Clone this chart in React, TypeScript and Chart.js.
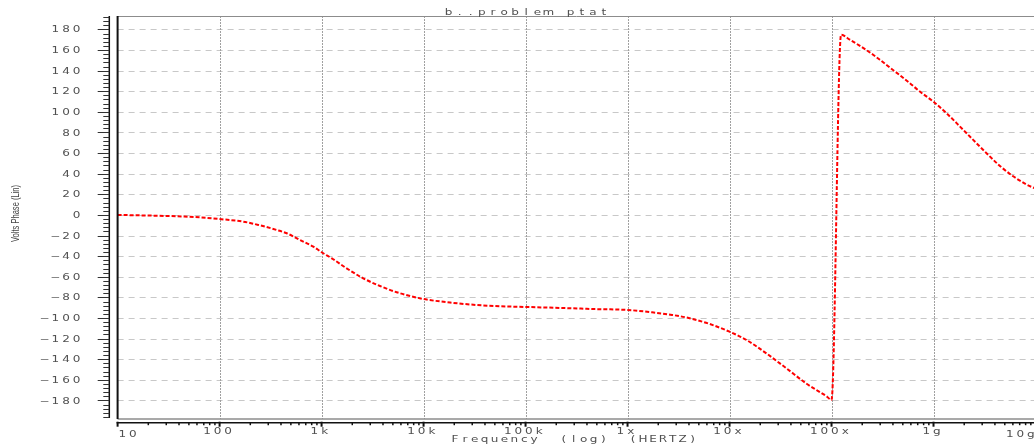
import { useEffect, useRef } from "react";
import { Chart, registerables } from "chart.js";

Chart.register(...registerables);

// ---- data ----
const freqHz = [
  10, 20, 30, 45, 64, 100, 170, 240, 363, 455, 614, 830, 1000, 1300, 1760, 2560, 3740, 5870,
  10000, 18200, 33000, 56000, 100000, 234000, 460000, 1e6, 1.74e6, 2.73e6, 3.98e6, 6.25e6,
  1e7, 1.47e7, 2.31e7, 3.63e7, 5.7e7, 8.95e7, 1e8, 1.24e8, 1.51e8, 1.9e8, 2.38e8, 2.98e8,
  3.73e8, 4.68e8, 5.86e8, 7.35e8, 9.93e8, 1.34e9, 1.82e9, 2.45e9, 3.31e9, 4.48e9, 6.04e9,
  8.18e9, 1e10,
];
const phaseDeg = [
  0, -0.6, -1.0, -1.6, -2.3, -4.0, -6.5, -9.7, -14.6, -17.8, -24.3, -30.8, -36.2, -43, -51.8,
  -61.5, -69, -76, -81.6, -85, -87.4, -88.6, -89.3, -90.3, -91.3, -92.2, -94.5, -97, -100,
  -105.5, -113.3, -121.4, -134.5, -149, -163.8, -176, -179.5, 174.8, 170, 164, 157.6, 150.5, 143,
  135.5, 127.8, 119.7, 110, 98.7, 85.7, 72.8, 59.9, 47.5, 37.5, 29.5, 25.5,
];

const yTickValues = [180, 160, 140, 120, 100, 80, 60, 40, 20, 0, -20, -40, -60, -80, -100, -120, -140, -160, -180];
const yTickLabels = ["180", "160", "140", "120", "100", "80", "60", "40", "20", "0", "−20", "−40", "−60", "−80", "−100", "−120", "−140", "−160", "−180"];
const xTickValues = [10, 100, 1e3, 1e4, 1e5, 1e6, 1e7, 1e8, 1e9, 1e10];
const xTickLabels = ["10", "100", "1k", "10k", "100k", "1x", "10x", "100x", "1g", "10g"];

const titleText = "b..problem ptat";
const xTitleText = "Frequency  (log)  (HERTZ)";
const yTitleText = "Volts Phase (Lin)";

const W = 1044;
const H = 445;

function spaced(ctx: CanvasRenderingContext2D, text: string, xStart: number, y: number, adv: number, sx: number) {
  for (let i = 0; i < text.length; i++) {
    const ch = text[i];
    if (ch === " ") continue;
    ctx.save();
    ctx.translate(xStart + i * adv + adv / 2, y);
    ctx.scale(sx, 1);
    ctx.fillText(ch, 0, 0);
    ctx.restore();
  }
}

const decor = {
  id: "decor",
  beforeDatasetsDraw(chart: any) {
    const { ctx, chartArea: a, scales } = chart;
    const xs = scales.x;
    const ys = scales.y;
    ctx.save();
    ctx.lineWidth = 1;
    ctx.strokeStyle = "#c8c8c8";
    ctx.setLineDash([6, 5]);
    for (const v of yTickValues) {
      const y = Math.round(ys.getPixelForValue(v)) + 0.5;
      ctx.beginPath();
      ctx.moveTo(a.left, y);
      ctx.lineTo(a.right, y);
      ctx.stroke();
    }
    ctx.strokeStyle = "#a0a0a0";
    ctx.setLineDash([2, 1]);
    for (const v of xTickValues.slice(1)) {
      const x = Math.round(xs.getPixelForValue(v)) + 0.5;
      ctx.beginPath();
      ctx.moveTo(x, a.top);
      ctx.lineTo(x, a.bottom);
      ctx.stroke();
    }
    ctx.restore();
  },
  afterDraw(chart: any) {
    const { ctx, chartArea: a, scales } = chart;
    const xs = scales.x;
    const ys = scales.y;
    ctx.save();
    ctx.setLineDash([]);
    // frame
    ctx.strokeStyle = "#8c8c8c";
    ctx.lineWidth = 1;
    ctx.beginPath();
    ctx.moveTo(a.left, a.top + 0.5);
    ctx.lineTo(a.right, a.top + 0.5);
    ctx.stroke();
    ctx.lineWidth = 1.5;
    ctx.beginPath();
    ctx.moveTo(a.left, a.bottom);
    ctx.lineTo(a.right, a.bottom);
    ctx.stroke();
    ctx.strokeStyle = "#111";
    ctx.lineWidth = 2;
    ctx.beginPath();
    ctx.moveTo(a.left, a.top);
    ctx.lineTo(a.left, a.bottom);
    ctx.stroke();

    // y axis line + ticks
    const axX = 109.3;
    ctx.lineWidth = 1.5;
    ctx.beginPath();
    ctx.moveTo(axX, a.top);
    ctx.lineTo(axX, a.bottom - 1);
    ctx.stroke();
    ctx.lineWidth = 1;
    ctx.strokeStyle = "#333";
    for (let v = 192; v >= -196; v -= 4) {
      const y = Math.round(ys.getPixelForValue(v)) + 0.5;
      const major = v % 20 === 0 && Math.abs(v) <= 180;
      ctx.beginPath();
      ctx.moveTo(major ? 97.7 : 103.3, y);
      ctx.lineTo(axX, y);
      ctx.stroke();
    }

    // x axis line + ticks
    ctx.strokeStyle = "#111";
    const axY = 422.7;
    ctx.lineWidth = 1.5;
    ctx.beginPath();
    ctx.moveTo(a.left - 1, axY);
    ctx.lineTo(a.right + 10, axY);
    ctx.stroke();
    for (let d = 0; d < xTickValues.length; d++) {
      const base = xTickValues[d];
      const x0 = xs.getPixelForValue(base);
      ctx.lineWidth = 2;
      ctx.beginPath();
      ctx.moveTo(x0, axY - 1);
      ctx.lineTo(x0, axY + 4);
      ctx.stroke();
      if (d < xTickValues.length - 1) {
        ctx.lineWidth = 1.5;
        for (let m = 2; m <= 9; m++) {
          const x = xs.getPixelForValue(base * m);
          ctx.beginPath();
          ctx.moveTo(x, axY);
          ctx.lineTo(x, axY + 2.5);
          ctx.stroke();
        }
      }
    }

    // labels
    ctx.fillStyle = "#505050";
    ctx.font = '8px "DejaVu Sans"';
    ctx.textAlign = "center";
    ctx.textBaseline = "middle";
    const adv = 10.7;
    yTickValues.forEach((v, i) => {
      const t = yTickLabels[i];
      const y = ys.getPixelForValue(v) + 1;
      spaced(ctx, t, 82 - t.length * adv, y, adv, 1.5);
    });
    xTickValues.forEach((v, i) => {
      const t = xTickLabels[i];
      const xc = xs.getPixelForValue(v) - 2;
      let start = xc - (t.length * 10.5) / 2;
      let y = 431.5;
      if (i === 0) {
        start = 117;
        y = 435;
      }
      if (i === xTickValues.length - 1) {
        start = 1036 - t.length * 10.5;
        y = 434.5;
      }
      spaced(ctx, t, start, y, 10.5, 1.5);
    });
    spaced(ctx, xTitleText, 450, 440, 9.9, 1.5);
    spaced(ctx, titleText, 443, 12.5, 11.1, 1.5);

    // y title
    ctx.fillStyle = "#444";
    ctx.font = '11px "Liberation Sans Narrow", "Liberation Sans", sans-serif';
    ctx.save();
    ctx.translate(16, 213.5);
    ctx.rotate(-Math.PI / 2);
    ctx.fillText(yTitleText, 0, 0, 57);
    ctx.restore();
    ctx.restore();
  },
};

export default function App() {
  const ref = useRef<HTMLCanvasElement | null>(null);
  useEffect(() => {
    if (!ref.current) return;
    const chart = new Chart(ref.current, {
      type: "line",
      data: {
        datasets: [
          {
            data: freqHz.map((f, i) => ({ x: f, y: phaseDeg[i] })),
            borderColor: "#ff0000",
            borderWidth: 2,
            borderDash: [4, 2],
            pointRadius: 0,
            cubicInterpolationMode: "monotone",
            fill: false,
          },
        ],
      },
      options: {
        animation: false,
        responsive: false,
        devicePixelRatio: 1,
        layout: { padding: { left: 117.6, top: 16, bottom: H - 419, right: W - 1035.5 } },
        plugins: { legend: { display: false }, tooltip: { enabled: false }, title: { display: false } },
        scales: {
          x: { type: "logarithmic", min: 10, max: 1e10, display: false },
          y: { type: "linear", min: -198, max: 193, display: false },
        },
      },
      plugins: [decor],
    });
    return () => chart.destroy();
  }, []);
  return (
    <div style={{ position: "fixed", left: 0, top: 0, width: 1034, height: 445, overflow: "hidden", background: "#fff" }}>
      <canvas ref={ref} width={W} height={H} style={{ width: W, height: H, display: "block" }} />
    </div>
  );
}
